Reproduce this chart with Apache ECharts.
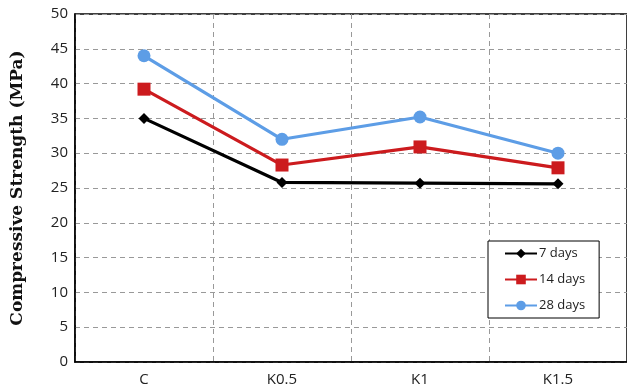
<!DOCTYPE html>
<html><head><meta charset="utf-8">
<script src="https://cdn.jsdelivr.net/npm/echarts@6/dist/echarts.min.js"></script>
<style>html,body{margin:0;padding:0;background:#fff}#c{width:627px;height:389px}</style>
</head><body><div id="c"></div>
<script>
const categories = ['C', 'K0.5', 'K1', 'K1.5'];
const days7 = [35.0, 25.8, 25.7, 25.6];
const days14 = [39.2, 28.3, 30.9, 27.9];
const days28 = [44.0, 32.0, 35.2, 30.0];
const seriesNames = ['7 days', '14 days', '28 days'];

const chart = echarts.init(document.getElementById('c'));
const font = 'Open Sans';
function mk(name, data, color, symbol, size) {
  return { name, type: 'line', data, symbol, symbolSize: size,
    lineStyle: { color, width: 3.2 }, itemStyle: { color }, z: 3 };
}
chart.setOption({
  animation: false,
  grid: { left: 75, top: 14, width: 556, height: 348, show: true, borderColor: '#000', borderWidth: 1.5, backgroundColor: 'transparent' },
  xAxis: {
    type: 'category', data: categories, boundaryGap: true,
    axisLine: { lineStyle: { color: '#000', width: 1.5 } },
    axisTick: { show: false },
    axisLabel: { color: '#222', fontFamily: font, fontSize: 15, margin: 10 },
    splitLine: { show: true, lineStyle: { color: '#999', type: [5, 4], width: 1 } }
  },
  yAxis: {
    type: 'value', min: 0, max: 50, interval: 5,
    name: 'Compressive Strength (MPa)', nameLocation: 'middle', nameGap: 49,
    nameTextStyle: { fontFamily: 'DejaVu Serif', fontWeight: 'bold', fontSize: 17, color: '#111' },
    axisLine: { show: true, lineStyle: { color: '#000', width: 1.5 } },
    axisTick: { show: false },
    axisLabel: { color: '#222', fontFamily: font, fontSize: 15, margin: 7 },
    splitLine: { show: true, lineStyle: { color: '#999', type: [5, 4], width: 1 } }
  },
  legend: {
    orient: 'vertical', left: 488, top: 241,
    data: seriesNames,
    backgroundColor: '#fff', borderColor: '#000', borderWidth: 1,
    padding: [6, 14, 6, 16], itemWidth: 32, itemHeight: 12, itemGap: 13,
    textStyle: { fontFamily: font, fontSize: 13, color: '#222', padding: [0, 0, 0, -3] }
  },
  series: [
    mk(seriesNames[0], days7, '#000000', 'diamond', 11),
    mk(seriesNames[1], days14, '#cc1b1e', 'rect', 13),
    mk(seriesNames[2], days28, '#5d9de6', 'circle', 13)
  ]
});
</script></body></html>
